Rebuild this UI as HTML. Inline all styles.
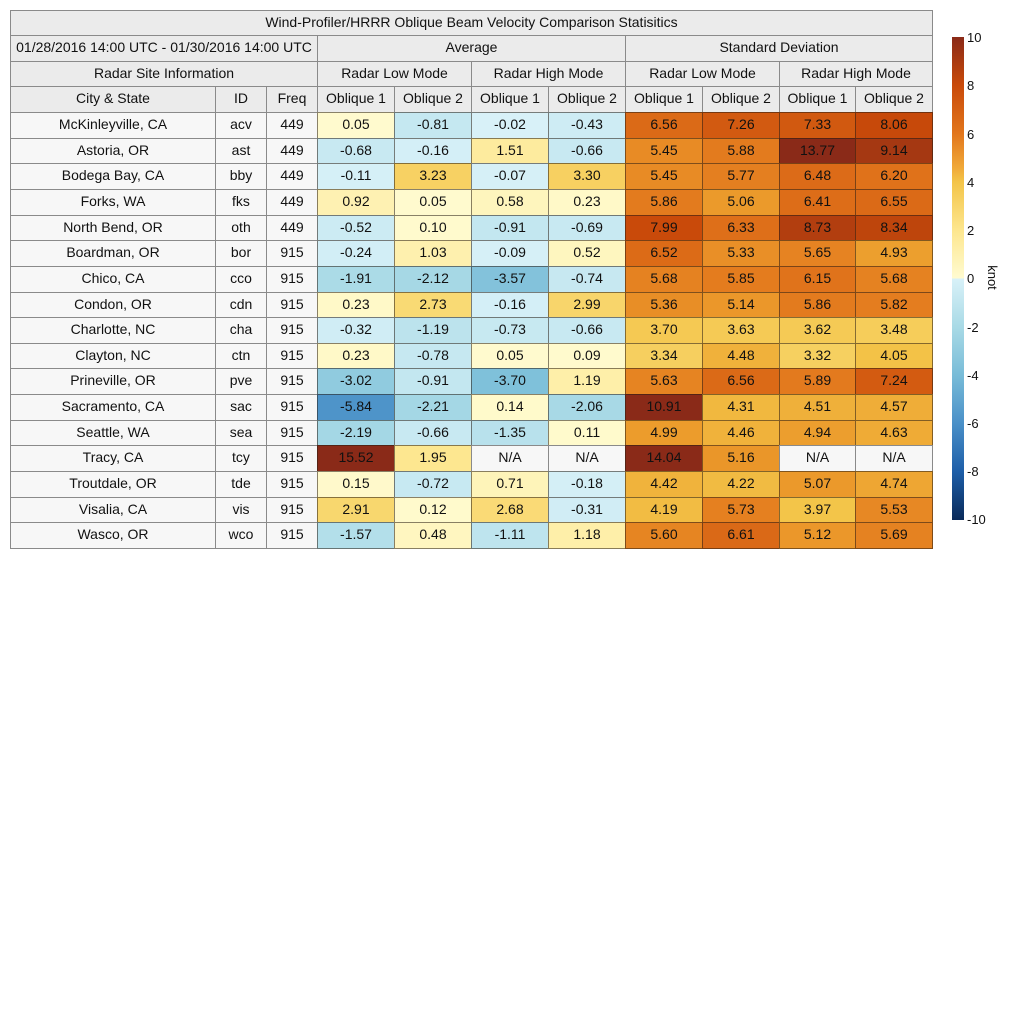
<!DOCTYPE html><html><head><style>
body{margin:0;width:1024px;height:1024px;background:#fff;position:relative;font-family:"Liberation Sans",sans-serif;overflow:hidden}
.c{position:absolute;box-sizing:border-box;border:1px solid #8a8a8a;margin:0 -1px -1px 0;display:flex;align-items:center;justify-content:center;font-size:14px;color:#111;white-space:nowrap;padding-bottom:3px}
.k{border-color:rgba(40,30,20,0.55)}
.t{position:absolute;font-size:13px;color:#111}
</style></head><body>
<div id="g"></div>
<div style="position:absolute;left:952px;top:37px;width:12px;height:483px;background:linear-gradient(to bottom,#8a2a18 0%,#c94a0a 10%,#e2761c 20%,#f0a838 27%,#f3c448 30%,#fde68e 40%,#fffbd0 49.9%,#d8f1f8 50.1%,#a9dae6 60%,#78bcd8 70%,#4a90c8 80%,#1d5ea8 90%,#0a2a5a 100%)"></div>
<div class="t" style="left:967px;top:30px">10</div>
<div class="t" style="left:967px;top:78px">8</div>
<div class="t" style="left:967px;top:127px">6</div>
<div class="t" style="left:967px;top:175px">4</div>
<div class="t" style="left:967px;top:223px">2</div>
<div class="t" style="left:967px;top:271px">0</div>
<div class="t" style="left:967px;top:320px">-2</div>
<div class="t" style="left:967px;top:368px">-4</div>
<div class="t" style="left:967px;top:416px">-6</div>
<div class="t" style="left:967px;top:464px">-8</div>
<div class="t" style="left:967px;top:512px">-10</div>
<div class="t" style="left:980px;top:270px;transform:rotate(90deg);transform-origin:center">knot</div>
<script>
const g=document.getElementById('g');
function cell(x1,x2,y1,y2,txt,bg,cls){const d=document.createElement('div');d.className='c'+(cls?' '+cls:'');d.style.cssText=`left:${x1}px;top:${y1}px;width:${x2-x1+1}px;height:${y2-y1+1}px;background:${bg}`;d.textContent=txt;g.appendChild(d);}
const H='#ebebeb';
const X=[10,215,266,317,394,471,548,625,702,779,855,932];
cell(10,932,10,35,'Wind-Profiler/HRRR Oblique Beam Velocity Comparison Statisitics',H);
cell(10,317,35,61,'01/28/2016 14:00 UTC - 01/30/2016 14:00 UTC',H);
cell(317,625,35,61,'Average',H);cell(625,932,35,61,'Standard Deviation',H);
cell(10,317,61,86,'Radar Site Information',H);
['Radar Low Mode','Radar High Mode','Radar Low Mode','Radar High Mode'].forEach((s,i)=>cell(X[3+2*i],X[5+2*i],61,86,s,H));
['City & State','ID','Freq','Oblique 1','Oblique 2','Oblique 1','Oblique 2','Oblique 1','Oblique 2','Oblique 1','Oblique 2'].forEach((s,i)=>cell(X[i],X[i+1],86,112,s,H));
const D=[["McKinleyville, CA","acv",449,0.05,-0.81,-0.02,-0.43,6.56,7.26,7.33,8.06],
["Astoria, OR","ast",449,-0.68,-0.16,1.51,-0.66,5.45,5.88,13.77,9.14],
["Bodega Bay, CA","bby",449,-0.11,3.23,-0.07,3.30,5.45,5.77,6.48,6.20],
["Forks, WA","fks",449,0.92,0.05,0.58,0.23,5.86,5.06,6.41,6.55],
["North Bend, OR","oth",449,-0.52,0.10,-0.91,-0.69,7.99,6.33,8.73,8.34],
["Boardman, OR","bor",915,-0.24,1.03,-0.09,0.52,6.52,5.33,5.65,4.93],
["Chico, CA","cco",915,-1.91,-2.12,-3.57,-0.74,5.68,5.85,6.15,5.68],
["Condon, OR","cdn",915,0.23,2.73,-0.16,2.99,5.36,5.14,5.86,5.82],
["Charlotte, NC","cha",915,-0.32,-1.19,-0.73,-0.66,3.70,3.63,3.62,3.48],
["Clayton, NC","ctn",915,0.23,-0.78,0.05,0.09,3.34,4.48,3.32,4.05],
["Prineville, OR","pve",915,-3.02,-0.91,-3.70,1.19,5.63,6.56,5.89,7.24],
["Sacramento, CA","sac",915,-5.84,-2.21,0.14,-2.06,10.91,4.31,4.51,4.57],
["Seattle, WA","sea",915,-2.19,-0.66,-1.35,0.11,4.99,4.46,4.94,4.63],
["Tracy, CA","tcy",915,15.52,1.95,null,null,14.04,5.16,null,null],
["Troutdale, OR","tde",915,0.15,-0.72,0.71,-0.18,4.42,4.22,5.07,4.74],
["Visalia, CA","vis",915,2.91,0.12,2.68,-0.31,4.19,5.73,3.97,5.53],
["Wasco, OR","wco",915,-1.57,0.48,-1.11,1.18,5.60,6.61,5.12,5.69]];
const P=[[0,[255,251,208]],[2,[253,230,142]],[4,[243,196,72]],[5,[236,156,44]],[6,[226,118,28]],[8,[201,74,10]],[10,[138,42,24]]];
const N=[[0,[216,241,248]],[2,[169,218,230]],[4,[120,188,216]],[6,[74,144,200]],[8,[29,94,168]],[10,[10,42,90]]];
function col(v){const s=v<0?N:P;let a=Math.min(Math.abs(v),10);for(let i=0;i<s.length-1;i++){if(a<=s[i+1][0]){const t=(a-s[i][0])/(s[i+1][0]-s[i][0]);return 'rgb('+s[i][1].map((c,k)=>Math.round(c+(s[i+1][1][k]-c)*t)).join(',')+')';}}return 'rgb('+s[s.length-1][1].join(',')+')';}
const h=(548-112)/17;
D.forEach((r,j)=>{const y1=Math.round(112+j*h),y2=Math.round(112+(j+1)*h);
for(let i=0;i<11;i++){const v=r[i];let bg='#f7f7f7',txt=v,cls='';
if(i>=3){if(v===null){txt='N/A';}else{bg=col(v);txt=v.toFixed(2);cls='k';}}
cell(X[i],X[i+1],y1,y2,txt,bg,cls);}});
</script>
</body></html>
